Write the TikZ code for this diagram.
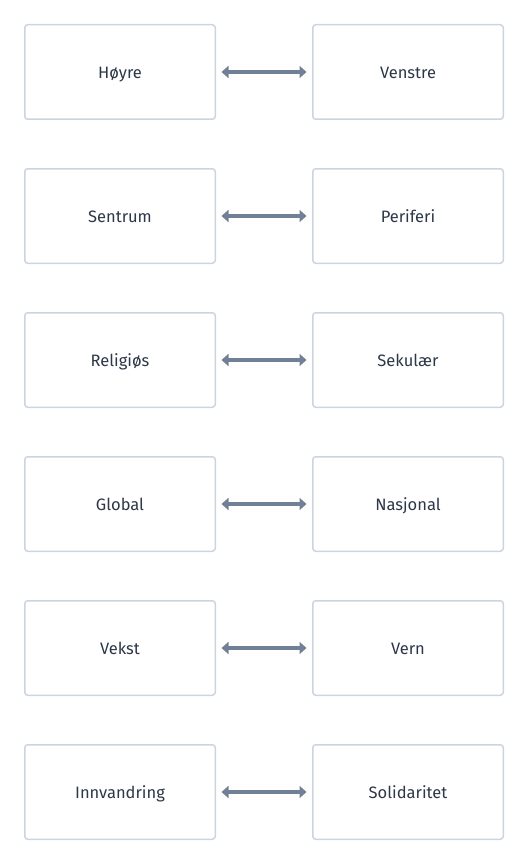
\documentclass[tikz,border=0pt]{standalone}
\usepackage{fontspec}
\setmainfont{Fira Sans}
\usetikzlibrary{arrows.meta}
\definecolor{boxline}{HTML}{CBD5E0}
\definecolor{txt}{HTML}{2D3748}
\definecolor{pil}{HTML}{718096}
\tikzset{
  pol/.style={draw=boxline,line width=1.5pt,rounded corners=3pt,fill=white,
    minimum width=190.5pt,minimum height=94.5pt,text=txt,font=\fontsize{16.5}{19}\selectfont,
    text height=15pt,text depth=2pt},
  motpol/.style={{Triangle[length=7pt,width=12pt]}-{Triangle[length=7pt,width=12pt]},
    draw=pil,line width=4.5pt,shorten <=5.5pt,shorten >=5.5pt}
}
\begin{document}
\begin{tikzpicture}[x=1pt,y=-1pt]
        \useasboundingbox (0,0) rectangle (528,864);
        %venstre kolonne
        \node[pol] (hoyre) at (120,72) {Høyre};
        \node[pol] (sentrum) at (120,216) {Sentrum};
        \node[pol] (religios) at (120,360) {Religiøs};
        \node[pol] (global) at (120,504) {Global};
        \node[pol] (vekst) at (120,648) {Vekst};
        \node[pol] (innvandring) at (120,792) {Innvandring};
        
        %hoyre kolonne
        \node[pol] (venstre) at (408,72) {Venstre};
        \node[pol] (periferi) at (408,216) {Periferi};
        \node[pol] (sekular) at (408,360) {Sekulær};
        \node[pol] (nasjonal) at (408,504) {Nasjonal};
        \node[pol] (vern) at (408,648) {Vern};
        \node[pol] (solidaritet) at (408,792) {Solidaritet};
        
        %piler
        \draw[motpol] (hoyre) -- (venstre);
        \draw[motpol] (sentrum) -- (periferi);
        \draw[motpol] (religios) -- (sekular);
        \draw[motpol] (global) -- (nasjonal);
        \draw[motpol] (vekst) -- (vern);
        \draw[motpol] (innvandring) -- (solidaritet);
        
    \end{tikzpicture}
\end{document}
